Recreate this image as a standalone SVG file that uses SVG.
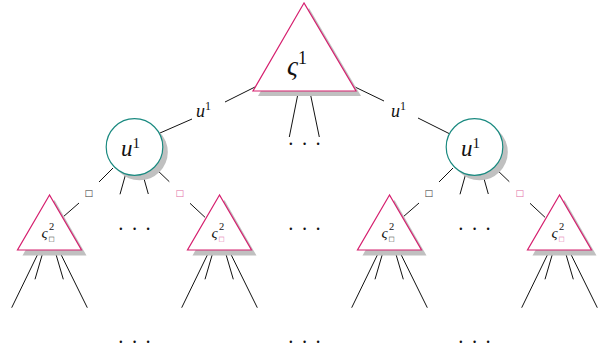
<svg xmlns="http://www.w3.org/2000/svg" width="605" height="352" viewBox="0 0 605 352">
<defs>
<style>
.tri{fill:#fff;stroke:#d6206f;stroke-width:1.2;stroke-linejoin:miter}
.shadow{fill:#c0c0c0;stroke:none}
.circ{fill:#fff;stroke:#1a8a80;stroke-width:1.2}
.edge{stroke:#111;stroke-width:1;fill:none}
.math{font-family:"Liberation Serif",serif;font-style:italic;fill:#111}
.num{font-family:"Liberation Serif",serif;fill:#111}
.sq{font-family:"DejaVu Sans",sans-serif;fill:#333}
.sqp{font-family:"DejaVu Sans",sans-serif;fill:#e26aa6}
.dots{font-family:"Liberation Serif",serif;font-size:20px;letter-spacing:1px;fill:#111}
</style>
</defs>
<rect width="605" height="352" fill="#fff"/>
<g id="connectors">
<line class="edge" x1="255" y1="87" x2="225" y2="102"/>
<line class="edge" x1="192" y1="119" x2="160" y2="133"/>
<line class="edge" x1="355" y1="87" x2="384" y2="101"/>
<line class="edge" x1="418" y1="118" x2="449" y2="133.5"/>
<line class="edge" x1="298.3" y1="92" x2="289.3" y2="137"/>
<line class="edge" x1="310" y1="92" x2="319.3" y2="137"/>
<g id="left-circle-edges">
<line class="edge" x1="113" y1="168" x2="99" y2="182"/>
<line class="edge" x1="79" y1="203" x2="63" y2="217"/>
<line class="edge" x1="125.7" y1="174" x2="120" y2="194.3"/>
<line class="edge" x1="142.7" y1="174" x2="148.3" y2="194"/>
<line class="edge" x1="155" y1="168" x2="169.3" y2="181.7"/>
<line class="edge" x1="190" y1="203.3" x2="205" y2="217.3"/>
</g>
<g id="right-circle-edges" transform="translate(340,0)">
<line class="edge" x1="113" y1="168" x2="99" y2="182"/>
<line class="edge" x1="79" y1="203" x2="63" y2="217"/>
<line class="edge" x1="125.7" y1="174" x2="120" y2="194.3"/>
<line class="edge" x1="142.7" y1="174" x2="148.3" y2="194"/>
<line class="edge" x1="155" y1="168" x2="169.3" y2="181.7"/>
<line class="edge" x1="190" y1="203.3" x2="205" y2="217.3"/>
</g>
<g id="leaf-edges-1">
<line class="edge" x1="39.3" y1="251" x2="11.7" y2="307.7"/>
<line class="edge" x1="43.3" y1="251" x2="35" y2="279.3"/>
<line class="edge" x1="55" y1="251" x2="63.3" y2="279.3"/>
<line class="edge" x1="59.3" y1="251" x2="87.3" y2="307.7"/>
</g>
<g id="leaf-edges-2" transform="translate(170,0)">
<line class="edge" x1="39.3" y1="251" x2="11.7" y2="307.7"/>
<line class="edge" x1="43.3" y1="251" x2="35" y2="279.3"/>
<line class="edge" x1="55" y1="251" x2="63.3" y2="279.3"/>
<line class="edge" x1="59.3" y1="251" x2="87.3" y2="307.7"/>
</g>
<g id="leaf-edges-3" transform="translate(340,0)">
<line class="edge" x1="39.3" y1="251" x2="11.7" y2="307.7"/>
<line class="edge" x1="43.3" y1="251" x2="35" y2="279.3"/>
<line class="edge" x1="55" y1="251" x2="63.3" y2="279.3"/>
<line class="edge" x1="59.3" y1="251" x2="87.3" y2="307.7"/>
</g>
<g id="leaf-edges-4" transform="translate(510,0)">
<line class="edge" x1="39.3" y1="251" x2="11.7" y2="307.7"/>
<line class="edge" x1="43.3" y1="251" x2="35" y2="279.3"/>
<line class="edge" x1="55" y1="251" x2="63.3" y2="279.3"/>
<line class="edge" x1="59.3" y1="251" x2="87.3" y2="307.7"/>
</g>
<text class="math" x="196" y="117" font-size="18">u<tspan class="num" font-style="normal" font-size="12" dy="-7">1</tspan></text>
<text class="math" x="391" y="117" font-size="18">u<tspan class="num" font-style="normal" font-size="12" dy="-7">1</tspan></text>
<text class="sq" x="88.7" y="195.5" font-size="9" text-anchor="middle">□</text>
<text class="sqp" x="179.7" y="195.5" font-size="9" text-anchor="middle">□</text>
<text class="sq" x="428.7" y="195.5" font-size="9" text-anchor="middle">□</text>
<text class="sqp" x="519.7" y="195.5" font-size="9" text-anchor="middle">□</text>
</g>
<g id="root">
<polygon class="shadow" points="309,8 258,96 361,96"/>
<polygon class="tri" points="304,3 253,91 356,91"/>
<text class="math" x="287" y="75" font-size="27">ς<tspan class="num" font-style="normal" font-size="18" dy="-11">1</tspan></text>
</g>
<g id="u-left">
<circle class="shadow" cx="139.5" cy="152" r="28.3"/>
<circle class="circ" cx="134.5" cy="147" r="28.3"/>
<text class="math" x="121" y="156" font-size="23">u<tspan class="num" font-style="normal" font-size="15" dy="-8">1</tspan></text>
</g>
<g id="u-right">
<circle class="shadow" cx="479.5" cy="152" r="28.3"/>
<circle class="circ" cx="474.5" cy="147" r="28.3"/>
<text class="math" x="461" y="156" font-size="23">u<tspan class="num" font-style="normal" font-size="15" dy="-8">1</tspan></text>
</g>
<g id="leaf-1">
<polygon class="shadow" points="54.5,200 22.5,255.5 86.5,255.5"/>
<polygon class="tri" points="49.5,195 17.5,250 81.5,250"/>
<text class="math" x="41.5" y="238" font-size="15" fill="#333">ς</text>
<text class="num" x="49" y="230" font-size="10.5" fill="#333">2</text>
<text class="sq" x="51.5" y="240.5" font-size="6.5" text-anchor="middle">□</text>
</g>
<g id="leaf-2">
<polygon class="shadow" points="224.5,200 192.5,255.5 256.5,255.5"/>
<polygon class="tri" points="219.5,195 187.5,250 251.5,250"/>
<text class="math" x="211.5" y="238" font-size="15" fill="#333">ς</text>
<text class="num" x="219" y="230" font-size="10.5" fill="#333">2</text>
<text class="sqp" x="221.5" y="240.5" font-size="6.5" text-anchor="middle">□</text>
</g>
<g id="leaf-3">
<polygon class="shadow" points="394.5,200 362.5,255.5 426.5,255.5"/>
<polygon class="tri" points="389.5,195 357.5,250 421.5,250"/>
<text class="math" x="381.5" y="238" font-size="15" fill="#333">ς</text>
<text class="num" x="389" y="230" font-size="10.5" fill="#333">2</text>
<text class="sq" x="391.5" y="240.5" font-size="6.5" text-anchor="middle">□</text>
</g>
<g id="leaf-4">
<polygon class="shadow" points="564.5,200 532.5,255.5 596.5,255.5"/>
<polygon class="tri" points="559.5,195 527.5,250 591.5,250"/>
<text class="math" x="551.5" y="238" font-size="15" fill="#333">ς</text>
<text class="num" x="559" y="230" font-size="10.5" fill="#333">2</text>
<text class="sqp" x="561.5" y="240.5" font-size="6.5" text-anchor="middle">□</text>
</g>
<g id="ellipses">
<text class="dots" x="287.5" y="151">· · ·</text>
<text class="dots" x="117.5" y="236">· · ·</text>
<text class="dots" x="287.5" y="236">· · ·</text>
<text class="dots" x="457.5" y="236">· · ·</text>
<text class="dots" x="117.5" y="349">· · ·</text>
<text class="dots" x="287.5" y="349">· · ·</text>
<text class="dots" x="457.5" y="349">· · ·</text>
</g>
</svg>
